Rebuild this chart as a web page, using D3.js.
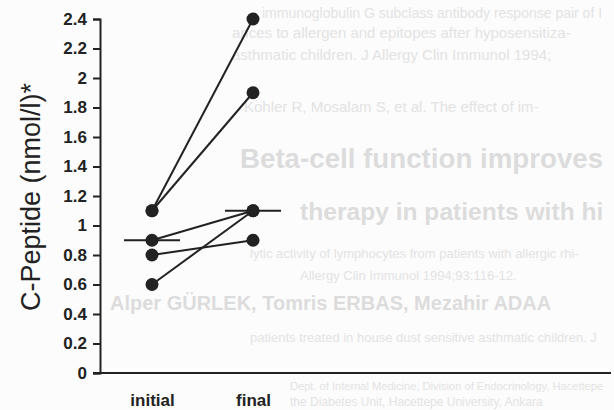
<!DOCTYPE html>
<html>
<head>
<meta charset="utf-8">
<script src="https://cdn.jsdelivr.net/npm/d3@7"></script>
<style>
  html, body { margin: 0; padding: 0; background: #fcfcfc; }
  svg { display: block; }
</style>
</head>
<body>
<svg id="chart" width="614" height="410"></svg>
<script>
// ---- data ----
const categories = ["initial", "final"];
const initialValues = [1.1, 1.1, 0.9, 0.8, 0.6];
const finalValues = [2.4, 1.9, 1.1, 0.9, 1.1];
const yTicks = [0, 0.2, 0.4, 0.6, 0.8, 1, 1.2, 1.4, 1.6, 1.8, 2, 2.2, 2.4];
const yLabel = "C-Peptide (nmol/l)*";

// faint show-through text from the scanned page behind the chart
const ghostTexts = [
  "immunoglobulin G subclass antibody response pair of I",
  "ances to allergen and epitopes after hyposensitiza-",
  "asthmatic children. J Allergy Clin Immunol 1994;",
  "Kohler R, Mosalam S, et al. The effect of im-",
  "Beta-cell function improves",
  "therapy in patients with hi",
  "lytic activity of lymphocytes from patients with allergic rhi-",
  "Allergy Clin Immunol 1994;93:116-12.",
  "Alper GÜRLEK, Tomris ERBAS, Mezahir ADAA",
  "patients treated in house dust sensitive asthmatic children. J",
  "Dept. of Internal Medicine, Division of Endocrinology, Hacettepe",
  "the Diabetes Unit, Hacettepe University, Ankara"
];
const ghostSizes = [14, 15, 15, 15, 40, 40, 13, 13, 20, 13, 12, 12];
const ghostBold = [false, false, false, false, true, true, false, false, true, false, false, false];

const svg = d3.select("#chart");
const axisX = 100, plotRight = 611;
const y = d3.scaleLinear().domain([0, 2.4]).range([373, 19]);
const x = d3.scalePoint().domain(categories).range([152, 253]);
const ink = "#222";
const font = "Liberation Sans, Arial, sans-serif";

// ghost text layout
const ghostPos = [
  [262, 18], [232, 38], [232, 60], [244, 112], [240, 168], [300, 220],
  [250, 258], [300, 280], [110, 310], [250, 342], [290, 390], [290, 406]
];
const ghost = svg.append("g").selectAll("text").data(ghostTexts).join("text")
  .attr("x", (d, i) => ghostPos[i][0]).attr("y", (d, i) => ghostPos[i][1])
  .attr("font-family", font)
  .attr("font-size", (d, i) => ghostSizes[i])
  .attr("font-weight", (d, i) => ghostBold[i] ? "bold" : "normal")
  .attr("fill", (d, i) => ghostBold[i] ? "#dcdcdc" : "#e3e3e3")
  .text(d => d);
ghost.each(function(d, i) {
  const len = this.getComputedTextLength();
  const avail = 604 - ghostPos[i][0];
  if (len > avail) {
    d3.select(this).attr("font-size", Math.floor(ghostSizes[i] * avail / len * 10) / 10);
  }
});

// y axis
const yAxis = svg.append("g")
  .attr("transform", `translate(${axisX},0)`)
  .call(d3.axisLeft(y).tickValues(yTicks).tickSize(7).tickSizeOuter(7).tickPadding(6)
    .tickFormat(d => String(+d.toFixed(1))));
yAxis.selectAll("path, line").attr("stroke", ink).attr("stroke-width", 2);
yAxis.selectAll("text")
  .attr("font-family", font)
  .attr("font-size", 17).attr("font-weight", "bold").attr("fill", ink);

// x axis baseline
svg.append("line")
  .attr("x1", axisX - 7).attr("x2", plotRight)
  .attr("y1", y(0)).attr("y2", y(0))
  .attr("stroke", ink).attr("stroke-width", 2);

// x category labels
const xAxis = svg.append("g")
  .attr("transform", `translate(0,${y(0)})`)
  .call(d3.axisBottom(x).tickSize(0).tickPadding(21));
xAxis.select(".domain").remove();
xAxis.selectAll("text")
  .attr("font-family", font)
  .attr("font-size", 17).attr("font-weight", "bold").attr("fill", ink);

// y label
svg.append("text")
  .attr("transform", `translate(40,197) rotate(-90)`)
  .attr("text-anchor", "middle")
  .attr("font-family", font)
  .attr("font-size", 27).attr("fill", ink)
  .text(yLabel);

// paired lines
const pairs = initialValues.map((v, i) => [v, finalValues[i]]);
svg.append("g").selectAll("line").data(pairs).join("line")
  .attr("x1", x("initial")).attr("y1", d => y(d[0]))
  .attr("x2", x("final")).attr("y2", d => y(d[1]))
  .attr("stroke", ink).attr("stroke-width", 2);

// median bars
const medians = [
  { c: "initial", v: d3.median(initialValues) },
  { c: "final", v: d3.median(finalValues) }
];
svg.append("g").selectAll("line").data(medians).join("line")
  .attr("x1", d => x(d.c) - 28).attr("x2", d => x(d.c) + 28)
  .attr("y1", d => y(d.v)).attr("y2", d => y(d.v))
  .attr("stroke", ink).attr("stroke-width", 2);

// points
const pts = [
  ...initialValues.map(v => ({ c: "initial", v })),
  ...finalValues.map(v => ({ c: "final", v }))
];
svg.append("g").selectAll("circle").data(pts).join("circle")
  .attr("cx", d => x(d.c)).attr("cy", d => y(d.v)).attr("r", 6.5)
  .attr("fill", ink);
</script>
</body>
</html>
